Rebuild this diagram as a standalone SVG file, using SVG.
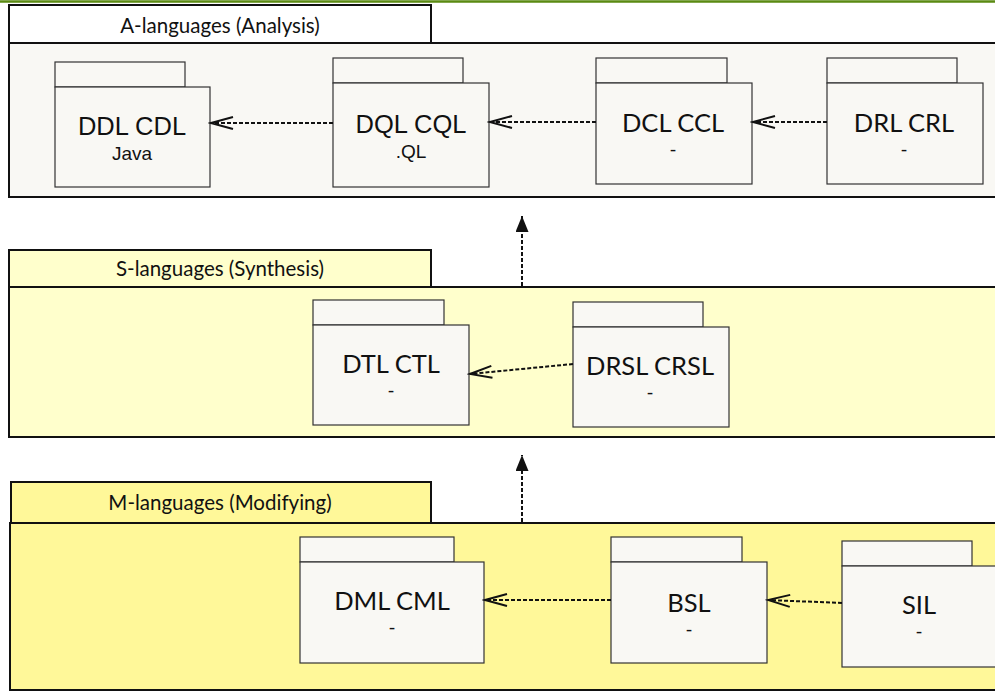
<svg xmlns="http://www.w3.org/2000/svg" width="995" height="693" viewBox="0 0 995 693">
<defs>
<style>
.panel{stroke:#111;stroke-width:2}
.node rect{fill:#f9f8f4;stroke:#333;stroke-width:1.2}
.t{font-family:Lato,"Liberation Sans",sans-serif;fill:#111;text-anchor:middle}
.a{font-family:"Liberation Sans",Arial,sans-serif;fill:#111;text-anchor:middle}
.big{font-size:25.5px}
.small{font-size:19px}
.ptitle{font-family:Lato,"Liberation Sans",sans-serif;font-size:20.5px;fill:#111;text-anchor:middle}
.dep{fill:none;stroke:#111;stroke-width:2;stroke-dasharray:4,2}
</style>
<marker id="open" markerWidth="26" markerHeight="16" refX="23" refY="8" orient="auto" markerUnits="userSpaceOnUse">
<path d="M1,2 L23,8 L1,14" fill="none" stroke="#111" stroke-width="2"/>
</marker>
<marker id="filled" markerWidth="18" markerHeight="14" refX="16" refY="6.5" orient="auto" markerUnits="userSpaceOnUse">
<path d="M0,0 L16,6.5 L0,13 Z" fill="#111"/>
</marker>
</defs>
<rect x="0" y="0" width="995" height="693" fill="#fff"/>
<line x1="0" y1="1.5" x2="995" y2="1.5" stroke="#5a8a12" stroke-width="2.5"/>

<g id="panel-A">
<rect class="panel" x="9" y="43" width="995" height="154" fill="#f9f8f4"/>
<rect class="panel" x="9" y="5" width="422" height="38" fill="#ffffff"/>
<text class="ptitle" x="220" y="33">A-languages (Analysis)</text>
</g>
<g id="panel-S">
<rect class="panel" x="9" y="287" width="995" height="150" fill="#ffffcc"/>
<rect class="panel" x="9" y="250" width="422" height="37" fill="#ffffcc"/>
<text class="ptitle" x="220" y="276">S-languages (Synthesis)</text>
</g>
<g id="panel-M">
<rect class="panel" x="10" y="523" width="995" height="167" fill="#fff899"/>
<rect class="panel" x="11" y="482" width="420" height="41" fill="#fff899"/>
<text class="ptitle" x="220" y="510">M-languages (Modifying)</text>
</g>

<g id="node-DDL" class="node">
<rect x="55" y="62" width="130" height="25"/>
<rect x="55" y="87" width="155" height="100"/>
<text class="a big" x="132" y="135">DDL CDL</text>
<text class="a small" x="132" y="160">Java</text>
</g>
<g id="node-DQL" class="node">
<rect x="333" y="58" width="130" height="25"/>
<rect x="333" y="83" width="156" height="104"/>
<text class="a big" x="411" y="133">DQL CQL</text>
<text class="a small" x="411" y="158">.QL</text>
</g>
<g id="node-DCL" class="node">
<rect x="596" y="58" width="131" height="25"/>
<rect x="596" y="83" width="156" height="101"/>
<text class="t big" x="673" y="132">DCL CCL</text>
<text class="t small" x="673" y="156">-</text>
</g>
<g id="node-DRL" class="node">
<rect x="827" y="58" width="130" height="25"/>
<rect x="827" y="83" width="156" height="101"/>
<text class="t big" x="904" y="132">DRL CRL</text>
<text class="t small" x="904" y="156">-</text>
</g>

<g id="node-DTL" class="node">
<rect x="313" y="300" width="131" height="25"/>
<rect x="313" y="325" width="156" height="100"/>
<text class="t big" x="391" y="373">DTL CTL</text>
<text class="t small" x="391" y="397">-</text>
</g>
<g id="node-DRSL" class="node">
<rect x="573" y="302" width="130" height="25"/>
<rect x="573" y="327" width="156" height="100"/>
<text class="t big" x="650" y="375">DRSL CRSL</text>
<text class="t small" x="650" y="399">-</text>
</g>

<g id="node-DML" class="node">
<rect x="300" y="537" width="154" height="25"/>
<rect x="300" y="562" width="184" height="101"/>
<text class="t big" x="392" y="610">DML CML</text>
<text class="t small" x="392" y="634">-</text>
</g>
<g id="node-BSL" class="node">
<rect x="611" y="537" width="131" height="25"/>
<rect x="611" y="562" width="156" height="101"/>
<text class="t big" x="689" y="612">BSL</text>
<text class="t small" x="689" y="636">-</text>
</g>
<g id="node-SIL" class="node">
<rect x="842" y="541" width="130" height="25"/>
<rect x="842" y="566" width="160" height="101"/>
<text class="t big" x="919" y="614">SIL</text>
<text class="t small" x="919" y="638">-</text>
</g>

<g id="connectors">
<line class="dep" x1="333" y1="123" x2="211" y2="123" marker-end="url(#open)"/>
<line class="dep" x1="596" y1="122" x2="490" y2="122" marker-end="url(#open)"/>
<line class="dep" x1="827" y1="122" x2="753" y2="122" marker-end="url(#open)"/>
<line class="dep" x1="573" y1="364" x2="470" y2="374" marker-end="url(#open)"/>
<line class="dep" x1="611" y1="600" x2="485" y2="600" marker-end="url(#open)"/>
<line class="dep" x1="842" y1="603" x2="768" y2="600" marker-end="url(#open)"/>
<line class="dep" x1="522" y1="286" x2="522" y2="216" marker-end="url(#filled)"/>
<line class="dep" x1="522" y1="522" x2="522" y2="455" marker-end="url(#filled)"/>
</g>
</svg>
